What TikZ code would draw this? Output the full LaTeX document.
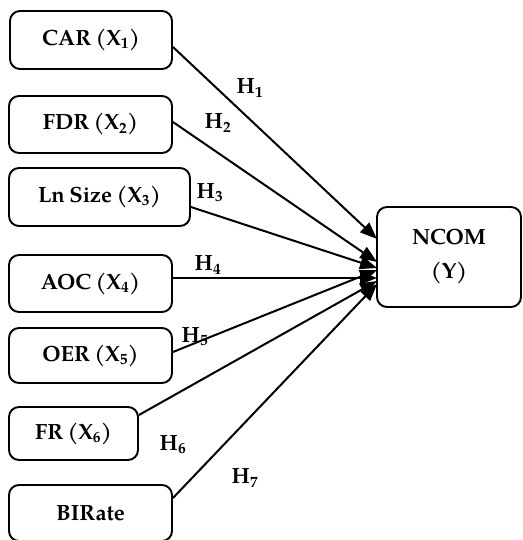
\documentclass[tikz,border=0pt]{standalone}
\usepackage{fontspec}
\newfontfamily\pal[Extension=.otf,UprightFont=texgyrepagella-regular,BoldFont=texgyrepagella-bold,WordSpace=0.8]{texgyrepagella}
\usetikzlibrary{arrows.meta}
\tikzset{
  varbox/.style={draw, rounded corners=10pt, line width=1.9pt, inner sep=0pt, align=center,
    font=\pal\bfseries\fontsize{22}{34}\selectfont},
  hlabel/.style={inner sep=0pt, font=\pal\bfseries\fontsize{22}{25}\selectfont},
  link/.style={line width=2pt, -{Triangle[length=17pt,width=13pt]}}
}
\begin{document}
\begin{tikzpicture}[x=1pt,y=-1pt]
\clip (0,0) rectangle (522,540);
\fill[white] (0,0) rectangle (522,540);
\node[varbox, minimum width=162pt, minimum height=58pt] (car) at (91,40) {CAR (X\textsubscript{1})};
\node[varbox, minimum width=163pt, minimum height=57pt] (fdr) at (90.5,124.5) {FDR (X\textsubscript{2})};
\node[varbox, minimum width=181pt, minimum height=58pt] (ln) at (99.5,197) {Ln Size (X\textsubscript{3})};
\node[varbox, minimum width=163pt, minimum height=57pt] (aoc) at (90.5,283.5) {AOC (X\textsubscript{4})};
\node[varbox, minimum width=163pt, minimum height=55pt] (oer) at (90.5,355.5) {OER (X\textsubscript{5})};
\node[varbox, minimum width=129pt, minimum height=53pt] (fr) at (73.5,433.5) {FR (X\textsubscript{6})};
\node[varbox, minimum width=163pt, minimum height=56pt] (bi) at (90.5,513) {BIRate};
\node[varbox, minimum width=144pt, minimum height=100pt] (ncom) at (449,257) {NCOM\\(Y)};
\coordinate (t1) at (377,239);
\coordinate (t2) at (377,262);
\coordinate (t3) at (377,268);
\coordinate (t4) at (377,278);
\coordinate (t5) at (377,270);
\coordinate (t6) at (377,281);
\coordinate (t7) at (377,284);
\draw[link] ([yshift=-7pt]car.east) -- (t1);
\draw[link] ([yshift=2.5pt]fdr.east) -- (t2);
\draw[link] ([yshift=-10pt]ln.east) -- (t3);
\draw[link] ([yshift=5.5pt]aoc.east) -- (t4);
\draw[link] ([yshift=3.5pt]oer.east) -- (t5);
\draw[link] ([yshift=18.5pt]fr.east) -- (t6);
\draw[link] ([yshift=15pt]bi.east) -- (t7);
\node[hlabel] (h1) at (250,88) {H\textsubscript{1}};
\node[hlabel] (h2) at (218,123) {H\textsubscript{2}};
\node[hlabel] (h3) at (210,193) {H\textsubscript{3}};
\node[hlabel] (h4) at (208,265) {H\textsubscript{4}};
\node[hlabel] (h5) at (195,337) {H\textsubscript{5}};
\node[hlabel] (h6) at (173,445) {H\textsubscript{6}};
\node[hlabel] (h7) at (245,478) {H\textsubscript{7}};
\end{tikzpicture}
\end{document}
